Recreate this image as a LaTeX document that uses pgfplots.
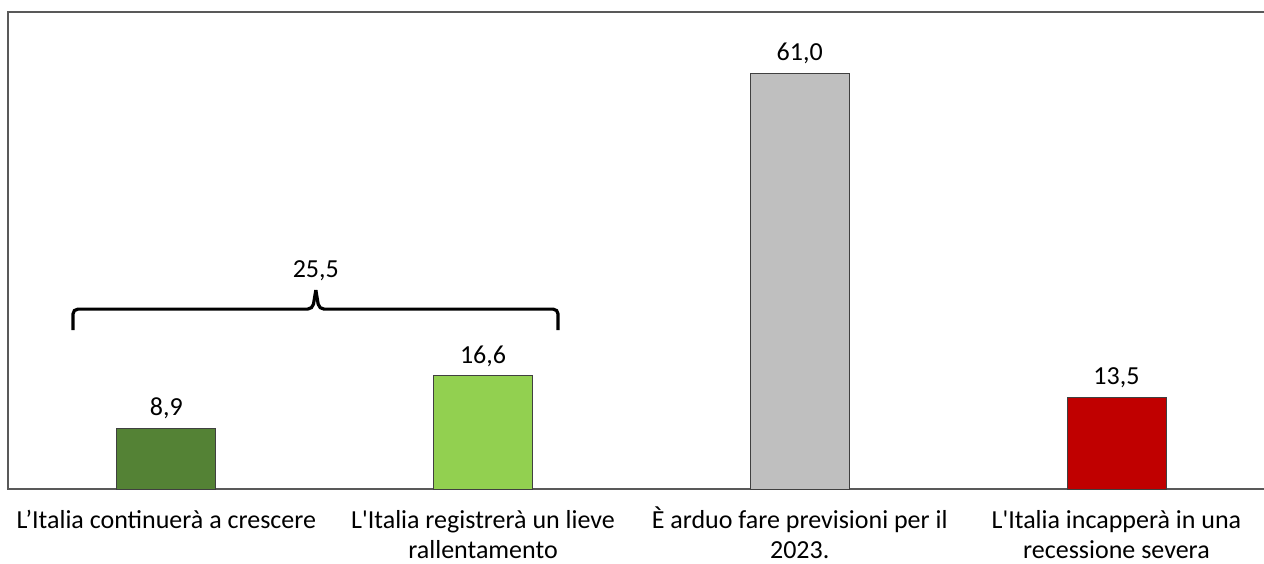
\documentclass[border=0pt]{standalone}
\usepackage{fontspec}
\setmainfont{Carlito}
\usepackage{pgfplots}
\pgfplotsset{compat=1.18}

\definecolor{darkgreen}{HTML}{548235}
\definecolor{lightgreen}{HTML}{92D050}
\definecolor{midgrey}{HTML}{BFBFBF}
\definecolor{darkred}{HTML}{C00000}
\definecolor{frame}{HTML}{595959}

\newcommand{\lbl}{\fontsize{26bp}{30bp}\selectfont}
\newcommand{\firstline}{\vphantom{È}}

\begin{document}
\begin{tikzpicture}
\begin{axis}[
  name=ax,
  scale only axis,
  width=1256bp, height=477bp,
  xmin=-0.5, xmax=3.466,
  ymin=0, ymax=70,
  axis line style={draw=none},
  major tick length=0pt,
  clip=false,
  ybar, bar width=0.3125,
  xtick={0,1,2,3},
  xticklabels={{\firstline L’Italia continuerà a crescere},
               {\firstline L\textquotesingle Italia registrerà un lieve\\rallentamento},
               {\firstline È arduo fare previsioni per il\\2023.},
               {\firstline L\textquotesingle Italia incapperà in una\\recessione severa}},
  xticklabel style={anchor=north, align=center, inner sep=0pt, yshift=-18bp},
  ytick=\empty,
  font=\lbl,
  nodes near coords,
  every node near coord/.append style={font=\lbl, black, inner sep=9bp},
  /pgf/number format/.cd, use comma, fixed, fixed zerofill, precision=1, assume math mode=true,
]
% frame: left, top and bottom sides
\draw[frame, line width=1.4bp] (rel axis cs:1,1) -- (rel axis cs:0,1) -- (rel axis cs:0,0) -- (rel axis cs:1,0);

\addplot[bar shift=0pt, fill=darkgreen, draw=black!75, line width=0.8bp] coordinates {(0,8.9)};
\addplot[bar shift=0pt, fill=lightgreen, draw=black!75, line width=0.8bp] coordinates {(1,16.6)};
\addplot[bar shift=0pt, fill=midgrey, draw=black!75, line width=0.8bp] coordinates {(2,61.0)};
\addplot[bar shift=0pt, fill=darkred, draw=black!75, line width=0.8bp] coordinates {(3,13.5)};

% brace grouping the first two answers (8,9 + 16,6)
\draw[black, line width=3.2bp, rounded corners=5bp]
  (axis cs:-0.295,23.3) -- (axis cs:-0.295,26.4) -- (axis cs:0.462,26.4)
  -- (axis cs:0.472,29.2);
\draw[black, line width=3.2bp, rounded corners=5bp]
  (axis cs:0.472,29.2) -- (axis cs:0.482,26.4) -- (axis cs:1.237,26.4)
  -- (axis cs:1.237,23.3);
\node[font=\lbl] at (axis cs:0.472,32.0) {25,5};
\end{axis}
\pgfresetboundingbox
\path[use as bounding box] ([xshift=-8bp,yshift=-74bp]ax.south west) rectangle ([yshift=12bp]ax.north east);
\end{tikzpicture}
\end{document}
